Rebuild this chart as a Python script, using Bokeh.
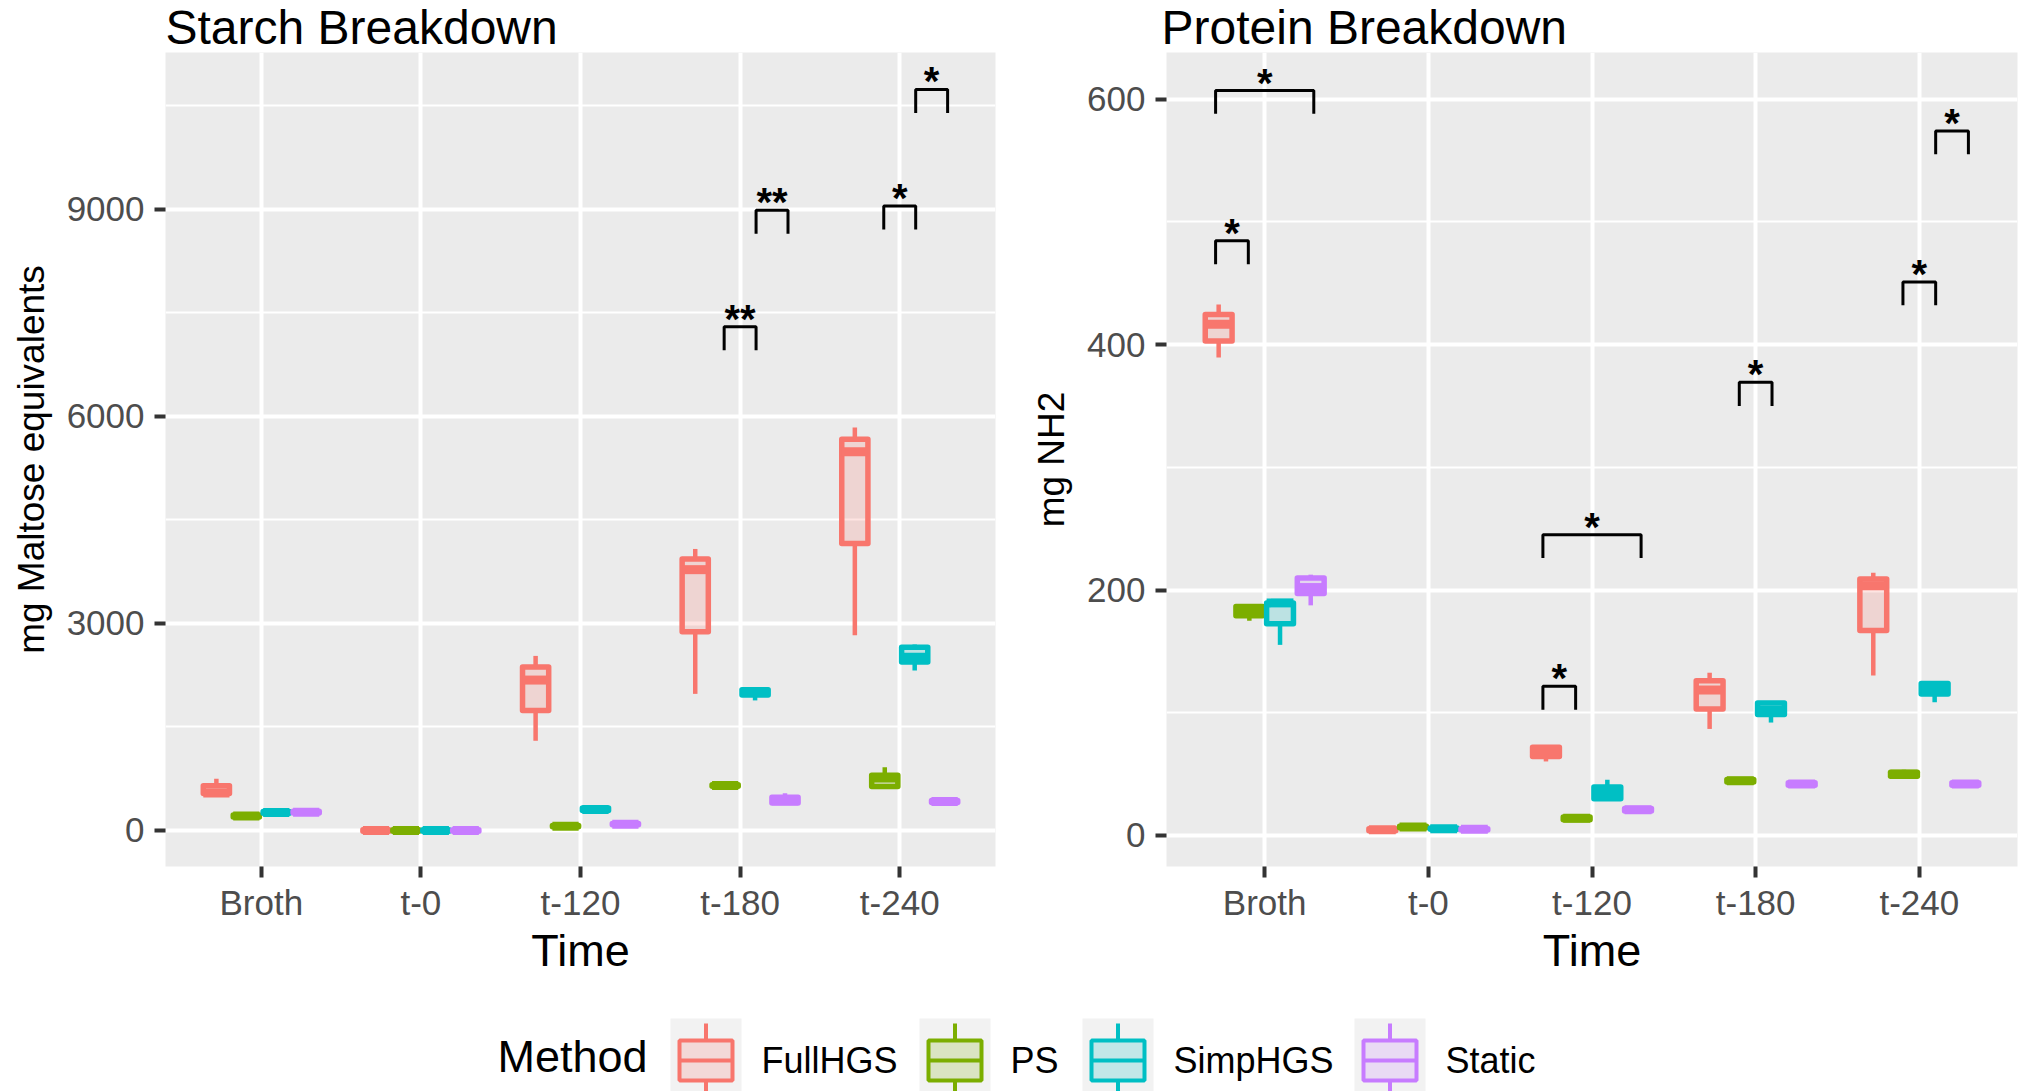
from bokeh.plotting import figure
from bokeh.layouts import row, column
from bokeh.models import Range1d, FixedTicker
from bokeh.core.properties import value
from bokeh.embed import file_html
from bokeh.resources import INLINE

FONT = "Liberation Sans"

times = ["Broth", "t-0", "t-120", "t-180", "t-240"]
methods = ["FullHGS", "PS", "SimpHGS", "Static"]
colors = ["#F8766D", "#7CAE00", "#00BFC4", "#C77CFF"]
panel_titles = ["Starch Breakdown", "Protein Breakdown"]

# five-number summaries (min, q1, median, q3, max), one per time point
starch_fullhgs = [(530, 537, 545, 650, 750), (-20, -12, 0, 12, 20), (1300, 1740, 2180, 2370, 2530),
                  (1980, 2880, 3780, 3935, 4080), (2830, 4160, 5490, 5670, 5840)]
starch_ps = [(180, 195, 210, 225, 235), (-20, -12, 0, 12, 20), (45, 55, 63, 72, 80),
             (625, 640, 652, 662, 675), (630, 638, 760, 800, 915)]
starch_simphgs = [(240, 250, 262, 275, 285), (-20, -12, 0, 12, 20), (275, 290, 305, 325, 345),
                  (1885, 1965, 2005, 2040, 2060), (2320, 2440, 2510, 2655, 2695)]
starch_static = [(250, 255, 266, 280, 290), (-20, -12, 0, 12, 20), (75, 82, 92, 102, 110),
                 (380, 400, 430, 480, 540), (395, 405, 420, 435, 445)]

protein_fullhgs = [(389.5, 403, 416.5, 424.5, 432.6), (3, 3.8, 4.6, 5.4, 6), (60.3, 64.3, 68.4, 71.8, 72.5),
                   (86.8, 103, 118.5, 126, 132.6), (130.3, 167, 203.5, 209, 214)]
protein_ps = [(175, 179, 184, 186.5, 187.5), (5.5, 6.2, 6.8, 7.4, 8), (11.5, 12.8, 14, 15, 16),
              (42.5, 43.5, 44.6, 45.6, 46.5), (47, 48.2, 49.8, 51.5, 53.5)]
protein_simphgs = [(155.3, 172.5, 189.5, 189.5, 190), (4.5, 5, 5.5, 6, 6.5), (28, 30, 35.3, 39.5, 45.3),
                   (92, 98.6, 102, 108, 109), (108.5, 115.2, 118.2, 123.9, 124.5)]
protein_static = [(187.5, 197.2, 202, 209.8, 212.5), (4, 4.5, 5, 5.5, 6), (19, 20, 21, 22, 23),
                  (40.5, 41, 42, 43, 43.5), (40.5, 41, 42, 43, 43.5)]

# significance brackets: x start, x end (category units), bar height, leg bottom, label
starch_sig_x1 = [3.9, 4.1, 4.9, 5.1]
starch_sig_x2 = [4.1, 4.3, 5.1, 5.3]
starch_sig_top = [7300, 8990, 9050, 10740]
starch_sig_low = [6960, 8650, 8710, 10400]
starch_sig_lab = ["**", "**", "*", "*"]

protein_sig_x1 = [0.7, 0.7, 2.7, 2.7, 3.9, 4.9, 5.1]
protein_sig_x2 = [1.3, 0.9, 3.3, 2.9, 4.1, 5.1, 5.3]
protein_sig_top = [607, 484.5, 245, 121.5, 369.3, 451, 574]
protein_sig_low = [588, 465.5, 226, 102.5, 350, 432, 555]
protein_sig_lab = ["*", "*", "*", "*", "*", "*", "*"]

starch_major = [0, 3000, 6000, 9000]
starch_minor = [1500, 4500, 7500, 10500]
protein_major = [0, 200, 400, 600]
protein_minor = [100, 300, 500]

DODGE = [-0.28125, -0.09375, 0.09375, 0.28125]
HW = 0.082
FRAME_H = 814
TOP_H = 52
BOTTOM_B = 130
PAGE_W, PAGE_H = 2028, 1091


def make_panel(title, title_dx, ylabel, series, yr, major, minor, sx1, sx2, stop, slow, slab,
               fw, bl, br):
    p = figure(frame_width=fw, frame_height=FRAME_H, x_range=Range1d(0.4, 5.6),
               y_range=Range1d(*yr), output_backend="svg", toolbar_location=None,
               min_border_left=bl, min_border_right=br, min_border_top=TOP_H,
               min_border_bottom=BOTTOM_B, title=title)
    p.title.text_font = FONT
    p.title.text_font_size = "48px"
    p.title.text_font_style = "normal"
    p.title.text_color = "black"
    p.title.align = "left"
    p.title.standoff = -3
    p.title.offset = title_dx
    p.title.vertical_align = "bottom"

    p.background_fill_color = "#EBEBEB"
    p.border_fill_color = "white"
    p.outline_line_color = None

    xt = FixedTicker(ticks=[1, 2, 3, 4, 5])
    yt = FixedTicker(ticks=major, minor_ticks=minor)
    p.xaxis.ticker = xt
    p.xgrid.ticker = xt
    p.yaxis.ticker = yt
    p.ygrid.ticker = yt
    p.xaxis.major_label_overrides = {i + 1: t for i, t in enumerate(times)}

    p.xgrid.grid_line_color = "white"
    p.xgrid.grid_line_width = 4
    p.ygrid.grid_line_color = "white"
    p.ygrid.grid_line_width = 4
    p.ygrid.minor_grid_line_color = "white"
    p.ygrid.minor_grid_line_width = 2

    for ax in (p.xaxis, p.yaxis):
        ax.axis_line_color = None
        ax.major_tick_line_color = "#333333"
        ax.major_tick_line_width = 4
        ax.major_tick_out = 11
        ax.major_tick_in = 0
        ax.minor_tick_line_color = None
        ax.major_label_text_font = FONT
        ax.major_label_text_font_size = "35px"
        ax.major_label_text_color = "#4D4D4D"
        ax.axis_label_text_font = FONT
        ax.axis_label_text_font_style = "normal"
        ax.axis_label_text_color = "black"
    p.xaxis.major_label_standoff = 5
    p.yaxis.major_label_standoff = 10
    p.xaxis.axis_label = "Time"
    p.xaxis.axis_label_text_font_size = "45px"
    p.xaxis.axis_label_standoff = 0
    p.yaxis.axis_label = ylabel
    p.yaxis.axis_label_text_font_size = "37px"
    p.yaxis.axis_label_standoff = 12

    for m, (data, c) in enumerate(zip(series, colors)):
        xs = [i + 1 + DODGE[m] for i in range(len(times))]
        mn = [d[0] for d in data]
        q1 = [d[1] for d in data]
        md = [d[2] for d in data]
        q3 = [d[3] for d in data]
        mx = [d[4] for d in data]
        left = [x - HW for x in xs]
        right = [x + HW for x in xs]
        p.segment(x0=xs, y0=q3, x1=xs, y1=mx, line_color=c, line_width=4.5)
        p.segment(x0=xs, y0=mn, x1=xs, y1=q1, line_color=c, line_width=4.5)
        p.quad(left=left, right=right, bottom=q1, top=q3, fill_color=c, fill_alpha=0.2,
               line_color=c, line_width=5.5, line_join="round")
        p.segment(x0=left, y0=md, x1=right, y1=md, line_color=c, line_width=9)

    bxs = [[a, a, b, b] for a, b in zip(sx1, sx2)]
    bys = [[lo, t, t, lo] for t, lo in zip(stop, slow)]
    p.multi_line(xs=bxs, ys=bys, line_color="black", line_width=3)
    p.text(x=[(a + b) / 2 for a, b in zip(sx1, sx2)], y=stop, text=slab,
           text_font=value(FONT), text_font_size="40px", text_font_style="bold",
           text_align="center", text_baseline="middle", y_offset=-8, text_color="black")
    return p


left = make_panel(panel_titles[0], 0, "mg Maltose equivalents",
                  [starch_fullhgs, starch_ps, starch_simphgs, starch_static],
                  (-522, 11275), starch_major, starch_minor,
                  starch_sig_x1, starch_sig_x2, starch_sig_top, starch_sig_low, starch_sig_lab,
                  830, 165, 10)
right = make_panel(panel_titles[1], -5, "mg NH2",
                   [protein_fullhgs, protein_ps, protein_simphgs, protein_static],
                   (-25.3, 638), protein_major, protein_minor,
                   protein_sig_x1, protein_sig_x2, protein_sig_top, protein_sig_low, protein_sig_lab,
                   851, 161, 11)


def strip(y0, y1):
    s = figure(width=PAGE_W, height=y1 - y0, x_range=Range1d(0, PAGE_W), y_range=Range1d(y1, y0),
               output_backend="svg", toolbar_location=None, x_axis_location=None,
               y_axis_location=None, min_border=0)
    s.grid.visible = False
    s.outline_line_color = None
    s.background_fill_color = "white"
    s.border_fill_color = "white"
    return s


# legend strip (page pixel coordinates)
leg_y0 = TOP_H + FRAME_H + BOTTOM_B
legend_key_x = [670, 919, 1082, 1354]
leg = strip(leg_y0, PAGE_H)
leg.text(x=[497], y=[1072 - 0.347 * 45], text=["Method"], text_font=value(FONT),
         text_font_size="45px", text_baseline="middle", text_color="black")
kx = legend_key_x
leg.quad(left=kx, right=[k + 71 for k in kx], top=[1018] * 4, bottom=[1100] * 4,
         fill_color="#F2F2F2", line_color=None)
cx = [k + 35.5 for k in kx]
leg.segment(x0=cx, y0=[1023] * 4, x1=cx, y1=[1040] * 4, line_color=colors, line_width=4)
leg.segment(x0=cx, y0=[1080] * 4, x1=cx, y1=[1100] * 4, line_color=colors, line_width=4)
leg.quad(left=[k + 9 for k in kx], right=[k + 62 for k in kx], top=[1040] * 4, bottom=[1080] * 4,
         fill_color=colors, fill_alpha=0.2, line_color=colors, line_width=4)
leg.segment(x0=[k + 9 for k in kx], y0=[1060] * 4, x1=[k + 62 for k in kx], y1=[1060] * 4,
            line_color=colors, line_width=4)
leg.text(x=[k + 91 for k in kx], y=[1072 - 0.347 * 36] * 4, text=methods, text_font=value(FONT),
         text_font_size="36px", text_baseline="middle", text_color="black")

layout = column(row(left, right), leg)
open("out.html", "w").write(file_html(layout, INLINE))
